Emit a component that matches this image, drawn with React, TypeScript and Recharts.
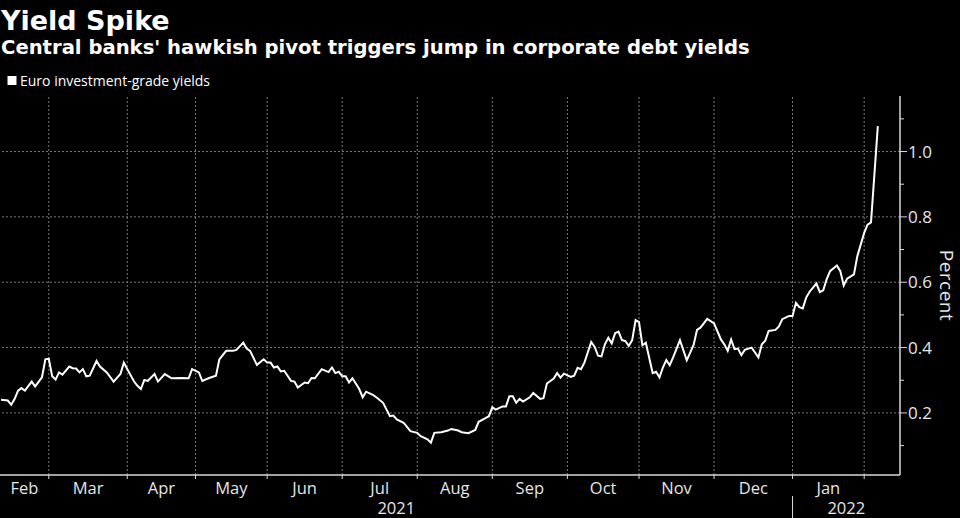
import React from 'react';
import { LineChart, Line, XAxis, YAxis, ReferenceLine } from 'recharts';

// Business days in each month shown (Feb 2021 partial, from 9 Feb) ... Jan 2022
const monthNames = ['Feb', 'Mar', 'Apr', 'May', 'Jun', 'Jul', 'Aug', 'Sep', 'Oct', 'Nov', 'Dec', 'Jan'];
const businessDaysPerMonth = [14, 23, 20, 21, 22, 22, 22, 22, 21, 22, 23, 21];
const yearLabels = ['2021', '2022'];
const xDomain: [number, number] = [-0.3, 263.5];

const yAxisTicks = [0.1, 0.2, 0.3, 0.4, 0.5, 0.6, 0.7, 0.8, 0.9, 1.0, 1.1];
const yLabelTicks = [0.2, 0.4, 0.6, 0.8, 1.0];
const yDomain: [number, number] = [0.01, 1.17];

// Business-day number (0 = 9 Feb 2021) and Euro IG yield, percent
const tradingDay = [
  0, 2, 3, 4, 5, 6, 7, 9, 10, 12, 13, 14, 15, 16, 17, 18, 20, 21, 22, 23, 24, 25, 26, 28, 29, 31, 33, 35, 36, 37,
  39, 40, 41, 42, 43, 45, 46, 48, 50, 53, 55, 56, 58, 59, 61, 63, 64, 66, 68, 69, 71, 72, 73, 75, 77, 78, 79, 80, 81, 82,
  83, 85, 86, 87, 89, 90, 91, 92, 94, 96, 97, 98, 99, 100, 101, 102, 103, 105, 106, 107, 109, 110, 112, 113, 114, 115, 116, 118, 120, 122,
  123, 125, 126, 127, 129, 131, 132, 134, 135, 137, 139, 140, 142, 143, 144, 145, 147, 148, 149, 150, 151, 152, 153, 155, 156, 158, 159, 160, 162, 163,
  164, 165, 167, 168, 169, 170, 171, 173, 174, 175, 176, 177, 178, 179, 180, 181, 182, 183, 184, 185, 186, 187, 188, 189, 191, 192, 193, 194, 195, 196,
  197, 199, 201, 203, 204, 205, 207, 209, 211, 212, 213, 214, 215, 216, 217, 218, 220, 221, 222, 223, 224, 225, 227, 228, 229, 231, 232, 233, 234, 235,
  236, 237, 239, 240, 241, 242, 243, 245, 246, 247, 248, 250, 251, 253, 254, 255, 257,
];
const yieldPct = [
  0.240, 0.238, 0.225, 0.243, 0.268, 0.276, 0.268, 0.296, 0.281, 0.309, 0.364, 0.366, 0.312, 0.302, 0.324, 0.317, 0.342, 0.337, 0.336, 0.324, 0.334, 0.312, 0.314, 0.359, 0.342, 0.324, 0.296, 0.319, 0.354, 0.334,
  0.296, 0.283, 0.273, 0.301, 0.298, 0.319, 0.296, 0.319, 0.306, 0.307, 0.306, 0.334, 0.324, 0.298, 0.307, 0.314, 0.364, 0.390, 0.390, 0.393, 0.415, 0.397, 0.390, 0.347, 0.364, 0.354, 0.354, 0.339, 0.342, 0.327,
  0.329, 0.298, 0.296, 0.278, 0.293, 0.291, 0.307, 0.306, 0.334, 0.325, 0.339, 0.322, 0.326, 0.312, 0.312, 0.293, 0.306, 0.273, 0.248, 0.265, 0.255, 0.248, 0.231, 0.210, 0.190, 0.192, 0.180, 0.170, 0.144, 0.139,
  0.129, 0.119, 0.109, 0.139, 0.141, 0.146, 0.151, 0.146, 0.141, 0.138, 0.148, 0.173, 0.184, 0.190, 0.217, 0.210, 0.220, 0.220, 0.251, 0.251, 0.231, 0.243, 0.235, 0.248, 0.261, 0.243, 0.245, 0.290, 0.305, 0.322,
  0.308, 0.320, 0.310, 0.314, 0.338, 0.334, 0.354, 0.417, 0.402, 0.375, 0.373, 0.410, 0.430, 0.413, 0.444, 0.449, 0.423, 0.420, 0.405, 0.423, 0.484, 0.478, 0.407, 0.415, 0.322, 0.326, 0.309, 0.339, 0.362, 0.346,
  0.370, 0.423, 0.361, 0.408, 0.454, 0.461, 0.488, 0.474, 0.425, 0.410, 0.390, 0.425, 0.395, 0.397, 0.377, 0.393, 0.400, 0.385, 0.370, 0.410, 0.421, 0.451, 0.454, 0.465, 0.487, 0.497, 0.497, 0.537, 0.524, 0.520,
  0.553, 0.571, 0.596, 0.570, 0.575, 0.609, 0.634, 0.651, 0.634, 0.590, 0.611, 0.624, 0.680, 0.751, 0.776, 0.783, 1.078,
];

const data = tradingDay.map((d, i) => ({ day: d, value: yieldPct[i] }));

const monthStarts: number[] = [];
businessDaysPerMonth.reduce((acc, n) => {
  monthStarts.push(acc);
  return acc + n;
}, 0);
const lastBoundary = monthStarts[monthStarts.length - 1] + businessDaysPerMonth[businessDaysPerMonth.length - 1];
const boundaries = [...monthStarts.slice(1), lastBoundary];
const monthMids = monthNames.map((_, i) => {
  const start = i === 0 ? xDomain[0] : monthStarts[i];
  const end = i + 1 < monthStarts.length ? monthStarts[i + 1] : lastBoundary;
  return (start + end) / 2;
});
const yearStart = monthStarts[monthNames.length - 1];
const yearMids = [(xDomain[0] + yearStart) / 2, (yearStart + xDomain[1]) / 2];
const xTicks = [...boundaries, ...monthMids, ...yearMids].sort((a, b) => a - b);

const FONT = "'Open Sans', 'DejaVu Sans', sans-serif";
const TITLE_FONT = "'DejaVu Sans', sans-serif";
const TEXT = '#e6e6e6';
const AXIS = '#d9d9d9';
const GRID = '#7a7a7a';

const near = (a: number, b: number) => Math.abs(a - b) < 1e-6;

const XTick = (props: any) => {
  const { x, y, payload } = props;
  const v = payload.value;
  const bi = boundaries.findIndex((b) => near(b, v));
  if (bi >= 0) {
    return (
      <g>
        <line x1={x} x2={x} y1={y} y2={y + 4} stroke={AXIS} strokeWidth={1} />
        {near(v, yearStart) && <line x1={x} x2={x} y1={y + 21} y2={y + 43} stroke={AXIS} strokeWidth={1} />}
      </g>
    );
  }
  const mi = monthMids.findIndex((m) => near(m, v));
  if (mi >= 0) {
    return (
      <text x={x} y={y + 19} textAnchor="middle" fill={TEXT} fontSize={16.5} fontFamily={FONT}>
        {monthNames[mi]}
      </text>
    );
  }
  const yi = yearMids.findIndex((m) => near(m, v));
  if (yi >= 0) {
    return (
      <text x={x} y={y + 38.5} textAnchor="middle" fill={TEXT} fontSize={16.5} fontFamily={FONT}>
        {yearLabels[yi]}
      </text>
    );
  }
  return <g />;
};

const YTick = (props: any) => {
  const { x, y, payload } = props;
  const v = payload.value;
  const major = yLabelTicks.some((t) => near(t, v));
  return (
    <g>
      <line x1={x} x2={x + (major ? 7 : 4)} y1={y} y2={y} stroke={AXIS} strokeWidth={1} />
      {major && (
        <text x={x + 8} y={y + 6} fill={TEXT} fontSize={17} fontFamily={FONT}>
          {v.toFixed(1)}
        </text>
      )}
    </g>
  );
};

const PercentLabel = (props: any) => {
  const vb = props.viewBox;
  const cx = vb.x + 39.5;
  const cy = vb.y + vb.height / 2;
  return (
    <text
      transform={`translate(${cx},${cy}) rotate(90)`}
      textAnchor="middle"
      fill={TEXT}
      fontSize={19}
      letterSpacing={0.5}
      fontFamily={FONT}
    >
      Percent
    </text>
  );
};

export default function App() {
  return (
    <div style={{ position: 'absolute', left: 0, top: 0, width: 960, height: 518, background: '#000', overflow: 'hidden' }}>
      <svg width={960} height={95} style={{ position: 'absolute', left: 0, top: 0 }}>
        <text x={1} y={30} fill="#fff" fontSize={27} fontWeight={700} fontFamily={TITLE_FONT}>
          Yield Spike
        </text>
        <text x={1} y={54} fill="#fff" fontSize={19.6} fontWeight={700} fontFamily={TITLE_FONT}>
          Central banks' hawkish pivot triggers jump in corporate debt yields
        </text>
        <rect x={7.5} y={76} width={9} height={9} fill="#fff" />
        <text x={20} y={86} fill="#fff" fontSize={14} fontFamily={FONT}>
          Euro investment-grade yields
        </text>
      </svg>
      <div style={{ position: 'absolute', left: 0, top: 0 }}>
        <LineChart width={960} height={518} data={data} margin={{ top: 96, right: 0, bottom: 0, left: 0 }}>
          {boundaries.map((b) => (
            <ReferenceLine key={`v${b}`} x={b} stroke={GRID} strokeDasharray="2 2" strokeWidth={1} />
          ))}
          {yLabelTicks.map((t) => (
            <ReferenceLine key={`h${t}`} y={t} stroke={GRID} strokeDasharray="2 2" strokeWidth={1} />
          ))}
          <XAxis
            dataKey="day"
            type="number"
            domain={xDomain}
            allowDataOverflow
            ticks={xTicks}
            interval={0}
            tick={<XTick />}
            tickLine={false}
            tickSize={0}
            tickMargin={0}
            axisLine={{ stroke: AXIS, strokeWidth: 1.5 }}
            height={43}
          />
          <YAxis
            orientation="right"
            type="number"
            domain={yDomain}
            allowDataOverflow
            ticks={yAxisTicks}
            interval={0}
            tick={<YTick />}
            tickLine={false}
            tickSize={0}
            tickMargin={0}
            axisLine={{ stroke: AXIS, strokeWidth: 1.5 }}
            width={60}
            label={<PercentLabel />}
          />
          <Line
            type="linear"
            dataKey="value"
            stroke="#ffffff"
            strokeWidth={2}
            dot={false}
            isAnimationActive={false}
          />
        </LineChart>
      </div>
    </div>
  );
}
